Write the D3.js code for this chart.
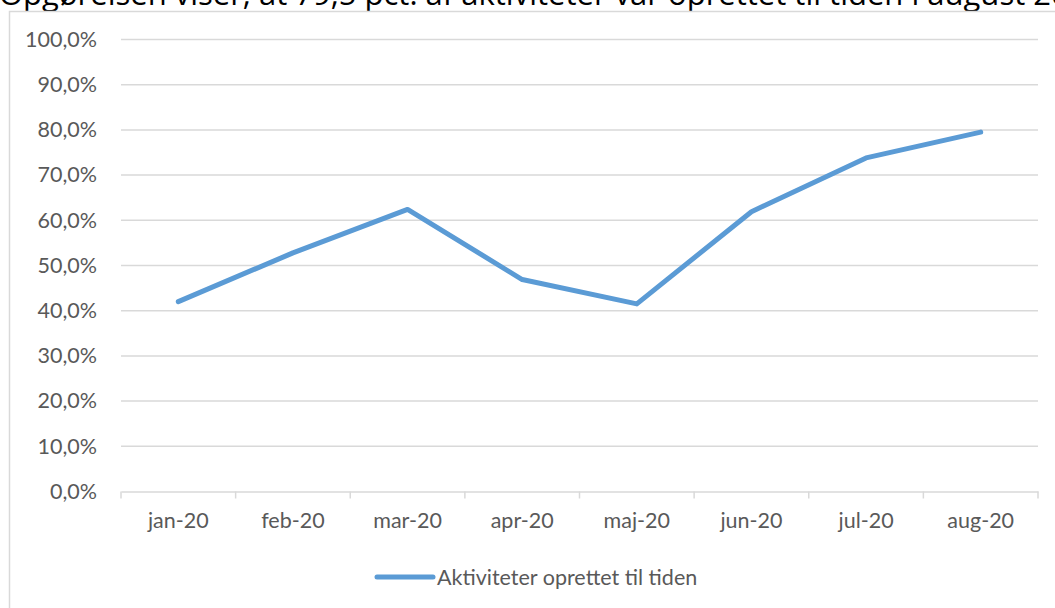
<!DOCTYPE html>
<html>
<head>
<meta charset="utf-8">
<script src="https://cdn.jsdelivr.net/npm/d3@7"></script>
<style>
  html, body { margin: 0; padding: 0; background: #fff; }
  svg { display: block; font-family: Lato, "Open Sans", sans-serif; }
</style>
</head>
<body>
<div id="chart"></div>
<script>
// data
const months = ["jan-20", "feb-20", "mar-20", "apr-20", "maj-20", "jun-20", "jul-20", "aug-20"];
const onTime = [0.420, 0.528, 0.624, 0.469, 0.415, 0.619, 0.738, 0.795];
const yTicks = [0, 0.1, 0.2, 0.3, 0.4, 0.5, 0.6, 0.7, 0.8, 0.9, 1.0];
const seriesName = "Aktiviteter oprettet til tiden";
const title = "Opgørelsen viser, at 79,5 pct. af aktiviteter var oprettet til tiden i august 2020.";

const width = 1055, height = 608;
const margin = {top: 39.5, right: 17, bottom: 116.5, left: 121};
const labelSize = 21.5;

const svg = d3.select("#chart").append("svg")
    .attr("width", width)
    .attr("height", height);

// titel (afskåret i toppen)
svg.append("text")
    .attr("x", -1)
    .attr("y", 5)
    .attr("font-size", 31)
    .attr("font-family", "'Open Sans', sans-serif")
    .attr("fill", "#000")
    .text(title);

// ramme om diagrammet
svg.append("rect")
    .attr("x", 9.5).attr("y", 11.5)
    .attr("width", width + 20).attr("height", height)
    .attr("fill", "#fff")
    .attr("stroke", "#d9d9d9")
    .attr("stroke-width", 1.5);

const da = d3.formatLocale({decimal: ",", thousands: ".", grouping: [3], currency: ["", " kr."]});
const pct = da.format(".1%");

const x = d3.scaleBand()
    .domain(months)
    .range([margin.left, width - margin.right]);

const y = d3.scaleLinear()
    .domain([0, 1])
    .range([height - margin.bottom, margin.top]);

// gitterlinjer
svg.append("g")
    .selectAll("line")
    .data(yTicks.filter(d => d > 0))
    .join("line")
    .attr("x1", margin.left).attr("x2", width - margin.right)
    .attr("y1", d => y(d)).attr("y2", d => y(d))
    .attr("stroke", "#d9d9d9")
    .attr("stroke-width", 1.5);

// y-akse
const yAxis = svg.append("g")
    .attr("transform", `translate(${margin.left},0)`)
    .call(d3.axisLeft(y).tickValues(yTicks).tickFormat(pct).tickSize(0).tickPadding(24));
yAxis.select(".domain").remove();
yAxis.selectAll("text")
    .attr("font-size", labelSize)
    .attr("font-family", "Lato, sans-serif")
    .attr("fill", "#595959");

// x-akse
const xAxis = svg.append("g")
    .attr("transform", `translate(0,${y(0)})`)
    .call(d3.axisBottom(x).tickSize(0).tickPadding(21));
xAxis.select(".domain")
    .attr("stroke", "#d9d9d9")
    .attr("stroke-width", 1.5);
xAxis.selectAll("text")
    .attr("font-size", labelSize)
    .attr("font-family", "Lato, sans-serif")
    .attr("fill", "#595959");

// tick-streger ved kategorigrænser
const bounds = months.map(m => x(m)).concat([x(months[months.length - 1]) + x.bandwidth()]);
svg.append("g")
    .selectAll("line")
    .data(bounds)
    .join("line")
    .attr("x1", d => d).attr("x2", d => d)
    .attr("y1", y(0)).attr("y2", y(0) + 7)
    .attr("stroke", "#d9d9d9")
    .attr("stroke-width", 1.5);

// linje
const line = d3.line()
    .x((d, i) => x(months[i]) + x.bandwidth() / 2)
    .y(d => y(d));

svg.append("path")
    .datum(onTime)
    .attr("d", line)
    .attr("fill", "none")
    .attr("stroke", "#5b9bd5")
    .attr("stroke-width", 5)
    .attr("stroke-linejoin", "round")
    .attr("stroke-linecap", "round");

// forklaring
const legend = svg.append("g").attr("transform", "translate(377,577)");
legend.append("line")
    .attr("x1", 0).attr("x2", 56)
    .attr("stroke", "#5b9bd5")
    .attr("stroke-width", 5)
    .attr("stroke-linecap", "round");
legend.append("text")
    .attr("x", 60)
    .attr("y", 7.5)
    .attr("font-size", labelSize)
    .attr("fill", "#595959")
    .text(seriesName);
</script>
</body>
</html>
